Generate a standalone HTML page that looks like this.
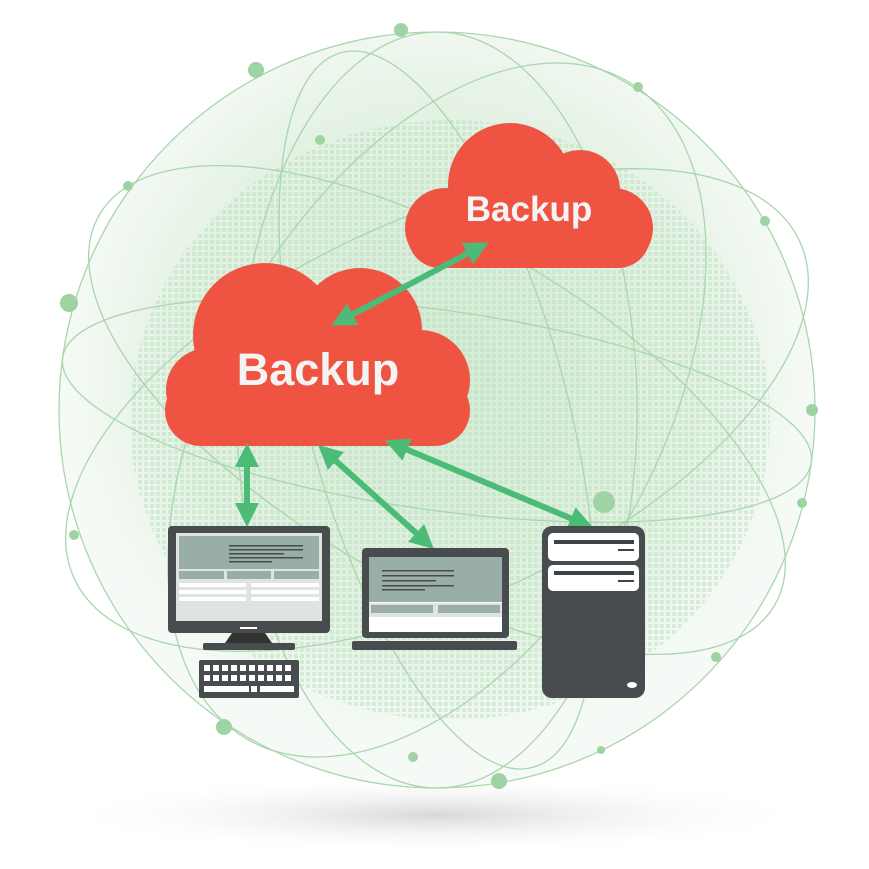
<!DOCTYPE html>
<html><head><style>body{margin:0;background:#fff}svg{display:block}</style></head><body>
<svg width="869" height="869" viewBox="0 0 869 869" xmlns="http://www.w3.org/2000/svg">
<defs>
<radialGradient id="g" cx="0.5" cy="0.45" r="0.5"><stop offset="0" stop-color="#d3ecd5"/><stop offset="0.7" stop-color="#e4f2e4"/><stop offset="1" stop-color="#f6faf6"/></radialGradient>
<radialGradient id="sh" cx="0.5" cy="0.5" r="0.5"><stop offset="0" stop-color="#d8d8d8"/><stop offset="1" stop-color="#fff" stop-opacity="0"/></radialGradient>
<pattern id="dots" width="6" height="6" patternUnits="userSpaceOnUse"><rect width="4" height="4" fill="#b5deba"/></pattern>
<marker id="a" viewBox="0 0 10 10" refX="5" refY="5" markerWidth="4" markerHeight="4" orient="auto-start-reverse"><path d="M0,0L10,5L0,10z" fill="#4cbb77"/></marker>
</defs>
<ellipse cx="435" cy="815" rx="380" ry="40" fill="url(#sh)"/>
<circle cx="437" cy="410" r="378" fill="url(#g)"/>
<ellipse cx="450" cy="420" rx="320" ry="300" fill="url(#dots)" opacity="0.45"/>
<g fill="none" stroke="#a9d6ad" stroke-width="1.3">
<circle cx="437" cy="410" r="378"/>
<ellipse cx="437" cy="410" rx="400" ry="190" transform="rotate(-25 437 410)"/>
<ellipse cx="437" cy="410" rx="390" ry="170" transform="rotate(30 437 410)"/>
<ellipse cx="437" cy="410" rx="370" ry="130" transform="rotate(75 437 410)"/>
<ellipse cx="437" cy="410" rx="380" ry="220" transform="rotate(-60 437 410)"/>
<ellipse cx="437" cy="410" rx="200" ry="378"/>
<ellipse cx="437" cy="410" rx="378" ry="100" transform="rotate(8 437 410)"/>
</g>
<g fill="#9fd3a4">
<circle cx="401" cy="30" r="7"/><circle cx="256" cy="70" r="8"/><circle cx="638" cy="87" r="5"/><circle cx="128" cy="186" r="5"/><circle cx="69" cy="303" r="9"/><circle cx="765" cy="221" r="5"/><circle cx="812" cy="410" r="6"/><circle cx="802" cy="503" r="5"/><circle cx="74" cy="535" r="5"/><circle cx="716" cy="657" r="5"/><circle cx="224" cy="727" r="8"/><circle cx="499" cy="781" r="8"/><circle cx="413" cy="757" r="5"/><circle cx="604" cy="502" r="11"/><circle cx="320" cy="140" r="5"/><circle cx="601" cy="750" r="4"/>
</g>
<g fill="#ef5443">
<circle cx="265" cy="335" r="72"/><circle cx="360" cy="330" r="62"/><circle cx="420" cy="380" r="50"/><circle cx="208" cy="390" r="42"/>
<rect x="165" y="375" width="305" height="71" rx="36"/>
<circle cx="510" cy="185" r="62"/><circle cx="580" cy="190" r="40"/><circle cx="613" cy="228" r="40"/><circle cx="445" cy="228" r="40"/>
<rect x="408" y="205" width="242" height="63" rx="32"/>
</g>
<text x="318" y="385" font-family="Liberation Sans, sans-serif" font-weight="bold" font-size="45" fill="#f4f4f4" text-anchor="middle">Backup</text>
<text x="529" y="221" font-family="Liberation Sans, sans-serif" font-weight="bold" font-size="35" fill="#f4f4f4" text-anchor="middle">Backup</text>
<g stroke="#4cbb77" stroke-width="6" marker-start="url(#a)" marker-end="url(#a)">
<line x1="478" y1="248" x2="342" y2="320"/>
<line x1="247" y1="455" x2="247" y2="515"/>
<line x1="327" y1="453" x2="425" y2="541"/>
<line x1="396" y1="445" x2="582" y2="523"/>
</g>
<rect x="168" y="526" width="162" height="107" rx="4" fill="#484c4f"/>
<rect x="176" y="533" width="146" height="88" fill="#dfe3e2"/>
<rect x="179" y="536" width="140" height="33" fill="#98aea6"/>
<g fill="#484c4f"><rect x="229" y="545" width="74" height="1.5"/><rect x="229" y="549" width="74" height="1.5"/><rect x="229" y="553" width="55" height="1.5"/><rect x="229" y="557" width="74" height="1.5"/><rect x="229" y="561" width="43" height="1.5"/></g>
<g fill="#98aea6"><rect x="179" y="571" width="45" height="8"/><rect x="227" y="571" width="44" height="8"/><rect x="274" y="571" width="45" height="8"/></g>
<g fill="#fff"><rect x="179" y="583" width="67" height="4"/><rect x="251" y="583" width="68" height="4"/><rect x="179" y="590" width="67" height="4"/><rect x="251" y="590" width="68" height="4"/><rect x="179" y="597" width="67" height="4"/><rect x="251" y="597" width="68" height="4"/></g>
<rect x="240" y="627" width="17" height="2" fill="#fff"/>
<path d="M232 633H265L272 643H225Z" fill="#333"/>
<rect x="203" y="643" width="92" height="7" rx="2" fill="#484c4f"/>
<rect x="199" y="660" width="100" height="38" rx="2" fill="#484c4f"/>
<g fill="#fff">
<rect x="204" y="665" width="6" height="6"/><rect x="213" y="665" width="6" height="6"/><rect x="222" y="665" width="6" height="6"/><rect x="231" y="665" width="6" height="6"/><rect x="240" y="665" width="6" height="6"/><rect x="249" y="665" width="6" height="6"/><rect x="258" y="665" width="6" height="6"/><rect x="267" y="665" width="6" height="6"/><rect x="276" y="665" width="6" height="6"/><rect x="285" y="665" width="6" height="6"/>
<rect x="204" y="675" width="6" height="6"/><rect x="213" y="675" width="6" height="6"/><rect x="222" y="675" width="6" height="6"/><rect x="231" y="675" width="6" height="6"/><rect x="240" y="675" width="6" height="6"/><rect x="249" y="675" width="6" height="6"/><rect x="258" y="675" width="6" height="6"/><rect x="267" y="675" width="6" height="6"/><rect x="276" y="675" width="6" height="6"/><rect x="285" y="675" width="6" height="6"/>
<rect x="204" y="686" width="45" height="6"/><rect x="251" y="686" width="6" height="6"/><rect x="260" y="686" width="34" height="6"/>
</g>
<rect x="362" y="548" width="147" height="90" rx="4" fill="#484c4f"/>
<rect x="369" y="557" width="133" height="75" fill="#fff"/>
<rect x="369" y="557" width="133" height="45" fill="#98aea6"/>
<g fill="#484c4f"><rect x="382" y="570" width="72" height="1.5"/><rect x="382" y="575" width="72" height="1.5"/><rect x="382" y="580" width="54" height="1.5"/><rect x="382" y="585" width="72" height="1.5"/><rect x="382" y="589" width="43" height="1.5"/></g>
<rect x="369" y="603" width="133" height="14" fill="#dfe3e2"/>
<g fill="#98aea6"><rect x="371" y="605" width="62" height="8"/><rect x="438" y="605" width="62" height="8"/></g>
<rect x="352" y="641" width="165" height="9" rx="2" fill="#484c4f"/>
<rect x="542" y="526" width="103" height="172" rx="10" fill="#484c4f"/>
<rect x="548" y="533" width="91" height="28" rx="5" fill="#fff"/>
<rect x="548" y="565" width="91" height="26" rx="5" fill="#fff"/>
<g fill="#3d4447"><rect x="554" y="540" width="80" height="4"/><rect x="618" y="549" width="16" height="2"/><rect x="554" y="571" width="80" height="4"/><rect x="618" y="580" width="16" height="2"/></g>
<ellipse cx="632" cy="685" rx="5" ry="3" fill="#fff"/>
</svg>
</body></html>
